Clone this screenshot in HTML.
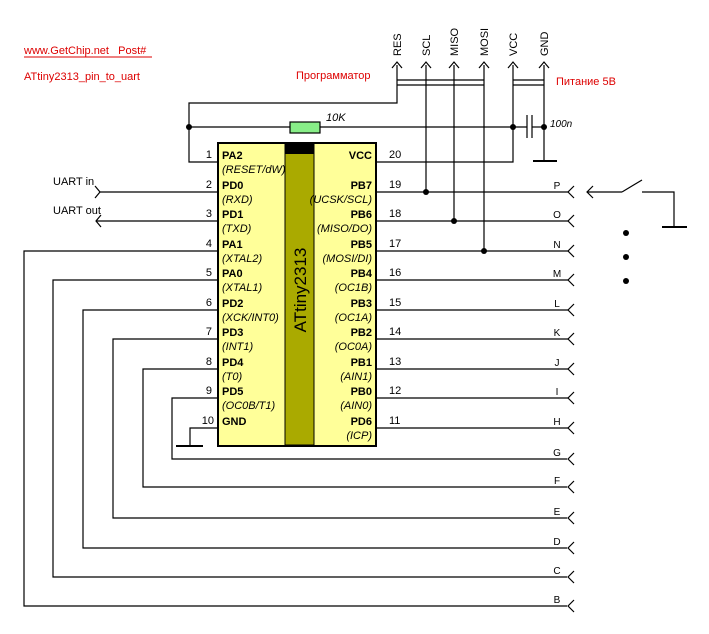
<!DOCTYPE html>
<html><head><meta charset="utf-8"><style>html,body{margin:0;padding:0;background:#fff}svg{display:block}</style></head>
<body>
<svg width="709" height="634" viewBox="0 0 709 634" xmlns="http://www.w3.org/2000/svg" font-family="Liberation Sans, Arial, sans-serif" font-size="11">
<g stroke="#000" stroke-width="1.2" fill="none">
<polyline points="218,251 24,251 24,606 567,606"/>
<polyline points="218,280 53,280 53,577 567,577"/>
<polyline points="218,310 83,310 83,548 567,548"/>
<polyline points="218,339 113,339 113,518 567,518"/>
<polyline points="218,369 143,369 143,487 567,487"/>
<polyline points="218,398 172,398 172,459 567,459"/>
<polyline points="218,428 190,428 190,446"/>
<line x1="176" y1="446" x2="203" y2="446" stroke-width="2"/>
<line x1="100" y1="192" x2="218" y2="192"/>
<polyline points="95,186 100,192 95,198"/>
<line x1="96" y1="221" x2="218" y2="221"/>
<polyline points="101,215 96,221 101,227"/>
<polyline points="218,162 189,162 189,103 397,103 397,65"/>
<line x1="189" y1="127" x2="290" y2="127"/>
<line x1="320" y1="127" x2="527" y2="127"/>
<line x1="532" y1="127" x2="544" y2="127"/>
<line x1="527" y1="115" x2="527" y2="138"/>
<line x1="532" y1="115" x2="532" y2="138"/>
<line x1="426" y1="65" x2="426" y2="192"/>
<line x1="454" y1="65" x2="454" y2="221"/>
<line x1="484" y1="65" x2="484" y2="251"/>
<polyline points="513,65 513,162 376,162"/>
<line x1="544" y1="65" x2="544" y2="161"/>
<line x1="533" y1="161" x2="557" y2="161" stroke-width="2"/>
<line x1="397" y1="80" x2="484" y2="80"/><line x1="397" y1="85" x2="484" y2="85"/>
<line x1="513" y1="80" x2="544" y2="80"/><line x1="513" y1="85" x2="544" y2="85"/>
<g>
<polyline points="392,68 397,62 402,68"/><polyline points="421,68 426,62 431,68"/>
<polyline points="449,68 454,62 459,68"/><polyline points="479,68 484,62 489,68"/>
<polyline points="508,68 513,62 518,68"/><polyline points="539,68 544,62 549,68"/>
</g>
<g>
<line x1="376" y1="192" x2="568" y2="192"/><line x1="376" y1="221" x2="568" y2="221"/>
<line x1="376" y1="251" x2="568" y2="251"/><line x1="376" y1="280" x2="568" y2="280"/>
<line x1="376" y1="310" x2="568" y2="310"/><line x1="376" y1="339" x2="568" y2="339"/>
<line x1="376" y1="369" x2="568" y2="369"/><line x1="376" y1="398" x2="568" y2="398"/>
<line x1="376" y1="428" x2="568" y2="428"/>
<polyline points="574,186 568,192 574,198"/><polyline points="574,215 568,221 574,227"/>
<polyline points="574,245 568,251 574,257"/><polyline points="574,274 568,280 574,286"/>
<polyline points="574,304 568,310 574,316"/><polyline points="574,333 568,339 574,345"/>
<polyline points="574,363 568,369 574,375"/><polyline points="574,392 568,398 574,404"/>
<polyline points="574,422 568,428 574,434"/><polyline points="574,453 568,459 574,465"/>
<polyline points="574,481 568,487 574,493"/><polyline points="574,512 568,518 574,524"/>
<polyline points="574,542 568,548 574,554"/><polyline points="574,571 568,577 574,583"/>
<polyline points="574,600 568,606 574,612"/>
</g>
<line x1="587" y1="192" x2="622" y2="192"/>
<polyline points="593,186 587,192 593,198"/>
<line x1="622" y1="192" x2="642" y2="180"/>
<polyline points="642,192 674,192 674,227"/>
<line x1="662" y1="227" x2="687" y2="227" stroke-width="2"/>
</g>
<rect x="290" y="122" width="30" height="11" fill="#88ee88" stroke="#000" stroke-width="1.2"/>
<g fill="#000">
<circle cx="189" cy="127" r="3"/><circle cx="513" cy="127" r="3"/><circle cx="544" cy="127" r="3"/>
<circle cx="426" cy="192" r="3"/><circle cx="454" cy="221" r="3"/><circle cx="484" cy="251" r="3"/>
<circle cx="626" cy="233" r="3"/><circle cx="626" cy="257" r="3"/><circle cx="626" cy="281" r="3"/>
</g>
<rect x="218" y="143" width="158" height="303" fill="#ffff99" stroke="#000" stroke-width="2"/>
<rect x="285" y="144" width="29" height="301" fill="#aaaa00" stroke="#000" stroke-width="1"/>
<rect x="285" y="144" width="29" height="10" fill="#000"/>
<text transform="translate(306,290) rotate(-90)" text-anchor="middle" font-size="17">ATtiny2313</text>
<g text-anchor="end">
<text x="212" y="158">1</text><text x="212" y="188">2</text><text x="212" y="217">3</text><text x="212" y="247">4</text><text x="212" y="276">5</text>
<text x="212" y="306">6</text><text x="212" y="335">7</text><text x="212" y="365">8</text><text x="212" y="394">9</text><text x="214" y="424">10</text>
</g>
<g font-weight="bold">
<text x="222" y="159">PA2</text><text x="222" y="189">PD0</text><text x="222" y="218">PD1</text><text x="222" y="248">PA1</text><text x="222" y="277">PA0</text>
<text x="222" y="307">PD2</text><text x="222" y="336">PD3</text><text x="222" y="366">PD4</text><text x="222" y="395">PD5</text><text x="222" y="425">GND</text>
</g>
<g font-style="italic">
<text x="222" y="173">(RESET/dW)</text><text x="222" y="203">(RXD)</text><text x="222" y="232">(TXD)</text><text x="222" y="262">(XTAL2)</text><text x="222" y="291">(XTAL1)</text>
<text x="222" y="321">(XCK/INT0)</text><text x="222" y="350">(INT1)</text><text x="222" y="380">(T0)</text><text x="222" y="409">(OC0B/T1)</text>
</g>
<g>
<text x="389" y="158">20</text><text x="389" y="188">19</text><text x="389" y="217">18</text><text x="389" y="247">17</text><text x="389" y="276">16</text>
<text x="389" y="306">15</text><text x="389" y="335">14</text><text x="389" y="365">13</text><text x="389" y="394">12</text><text x="389" y="424">11</text>
</g>
<g font-weight="bold" text-anchor="end">
<text x="372" y="159">VCC</text><text x="372" y="189">PB7</text><text x="372" y="218">PB6</text><text x="372" y="248">PB5</text><text x="372" y="277">PB4</text>
<text x="372" y="307">PB3</text><text x="372" y="336">PB2</text><text x="372" y="366">PB1</text><text x="372" y="395">PB0</text><text x="372" y="425">PD6</text>
</g>
<g font-style="italic" text-anchor="end">
<text x="372" y="203">(UCSK/SCL)</text><text x="372" y="232">(MISO/DO)</text><text x="372" y="262">(MOSI/DI)</text><text x="372" y="291">(OC1B)</text>
<text x="372" y="321">(OC1A)</text><text x="372" y="350">(OC0A)</text><text x="372" y="380">(AIN1)</text><text x="372" y="409">(AIN0)</text><text x="372" y="439">(ICP)</text>
</g>
<g font-size="10" text-anchor="middle">
<text x="557" y="189">P</text><text x="557" y="218">O</text><text x="557" y="248">N</text><text x="557" y="277">M</text><text x="557" y="307">L</text>
<text x="557" y="336">K</text><text x="557" y="366">J</text><text x="557" y="395">I</text><text x="557" y="425">H</text><text x="557" y="456">G</text>
<text x="557" y="484">F</text><text x="557" y="515">E</text><text x="557" y="545">D</text><text x="557" y="574">C</text><text x="557" y="603">B</text>
</g>
<g font-size="11">
<text transform="translate(401,56) rotate(-90)">RES</text>
<text transform="translate(430,56) rotate(-90)">SCL</text>
<text transform="translate(458,56) rotate(-90)">MISO</text>
<text transform="translate(488,56) rotate(-90)">MOSI</text>
<text transform="translate(517,56) rotate(-90)">VCC</text>
<text transform="translate(548,56) rotate(-90)">GND</text>
</g>
<text x="53" y="185">UART in</text>
<text x="53" y="214">UART out</text>
<g font-style="italic">
<text x="326" y="121">10K</text>
<text x="550" y="127" font-size="10">100n</text>
</g>
<g fill="#dd0000">
<text x="24" y="54" style="white-space:pre">www.GetChip.net   Post#</text>
<line x1="24" y1="57" x2="152" y2="57" stroke="#dd0000" stroke-width="1"/>
<text x="24" y="80">ATtiny2313_pin_to_uart</text>
<text x="296" y="79">Программатор</text>
<text x="556" y="85">Питание 5В</text>
</g>
</svg>
</body></html>
